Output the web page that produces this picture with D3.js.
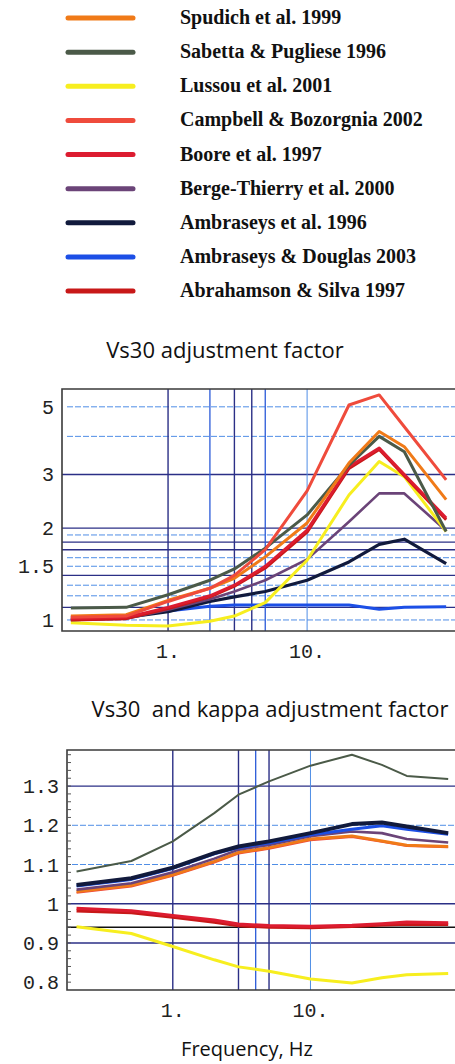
<!DOCTYPE html>
<html>
<head>
<meta charset="utf-8">
<script src="https://cdn.jsdelivr.net/npm/d3@7"></script>
<style>
	body { margin: 0; background: #fff; }
	svg { display: block; }
	.c-adj__legend-text { font-family: "Liberation Serif", serif; font-weight: bold; font-size: 20px; fill: #111; }
	.c-adj__title { font-family: "Open Sans", sans-serif; font-size: 22px; fill: #111; }
	.c-adj__tick { font-family: "Liberation Mono", monospace; font-size: 20px; fill: #222; }
	.c-adj__xlabel { font-family: "Open Sans", sans-serif; font-size: 20px; fill: #111; }
</style>
</head>
<body>
<div id="chart"></div>
<script>
var names = ["Spudich et al. 1999", "Sabetta & Pugliese 1996", "Lussou et al. 2001", "Campbell & Bozorgnia 2002",
	"Boore et al. 1997", "Berge-Thierry et al. 2000", "Ambraseys et al. 1996", "Ambraseys & Douglas 2003", "Abrahamson & Silva 1997"];
var colors = ["#f07a18", "#4b5a48", "#f7ee1f", "#ef4b3c", "#dc1c30", "#6b4478", "#111a3c", "#1c4fe6", "#c81818"];

var freqs = [0.2, 0.5, 1, 2, 3, 5, 10, 20, 33, 50, 100];

//Vs30 adjustment factor, one row per model (legend order)
var vs30Values = [
	[1.03, 1.04, 1.16, 1.27, 1.37, 1.61, 2.08, 3.27, 4.15, 3.70, 2.48],
	[1.095, 1.10, 1.21, 1.35, 1.47, 1.72, 2.21, 3.22, 4.00, 3.56, 1.95],
	[0.98, 0.96, 0.955, 0.99, 1.03, 1.14, 1.57, 2.57, 3.31, 2.95, 1.95],
	[1.02, 1.03, 1.15, 1.27, 1.40, 1.70, 2.65, 5.07, 5.47, 4.30, 2.88],
	[1.01, 1.02, 1.10, 1.20, 1.30, 1.50, 1.97, 3.18, 3.66, 3.00, 2.16],
	[1.00, 1.01, 1.08, 1.17, 1.24, 1.35, 1.58, 2.10, 2.60, 2.60, 1.96],
	[1.00, 1.02, 1.065, 1.15, 1.19, 1.24, 1.35, 1.55, 1.77, 1.84, 1.53],
	[1.02, 1.03, 1.07, 1.11, 1.12, 1.12, 1.12, 1.12, 1.085, 1.10, 1.105],
	[1.00, 1.01, 1.09, 1.19, 1.29, 1.48, 1.94, 3.14, 3.62, 2.97, 2.13]
];

//Vs30 and kappa adjustment factor
var kappaValues = [
	[1.031, 1.047, 1.074, 1.108, 1.131, 1.143, 1.165, 1.173, 1.160, 1.149, 1.146],
	[1.082, 1.109, 1.159, 1.231, 1.278, 1.312, 1.352, 1.380, 1.354, 1.326, 1.318],
	[0.941, 0.924, 0.891, 0.857, 0.839, 0.828, 0.808, 0.798, 0.811, 0.819, 0.822],
	[1.028, 1.044, 1.071, 1.105, 1.128, 1.140, 1.162, 1.170, 1.158, 1.147, 1.144],
	[0.988, 0.982, 0.970, 0.958, 0.948, 0.944, 0.942, 0.945, 0.949, 0.953, 0.951],
	[1.036, 1.052, 1.080, 1.115, 1.138, 1.150, 1.172, 1.184, 1.180, 1.165, 1.156],
	[1.048, 1.065, 1.092, 1.129, 1.146, 1.159, 1.180, 1.203, 1.207, 1.197, 1.180],
	[1.045, 1.062, 1.090, 1.127, 1.143, 1.155, 1.176, 1.190, 1.199, 1.190, 1.177],
	[0.982, 0.977, 0.966, 0.953, 0.944, 0.940, 0.939, 0.942, 0.946, 0.948, 0.947]
];

var xTicks = [1, 10];
var vs30Ticks = [5, 3, 2, 1.5, 1];
var kappaTicks = [1.3, 1.2, 1.1, 1, 0.9, 0.8];

//Grid lines: [value, style]
var vs30GridY = [[5, "l"], [4, "l"], [3, "d"], [2, "d"], [1.9, "l"], [1.8, "d"], [1.7, "d"], [1.6, "l"],
	[1.5, "l"], [1.4, "d"], [1.3, "l"], [1.2, "l"], [1.1, "d"], [1, "l"]];
var vs30GridX = [[1, "d"], [2, "b"], [3, "d"], [4, "d"], [5, "b"], [10, "l"]];
var kappaGridY = [[1.3, "d"], [1.2, "l"], [1.1, "l"], [1, "d"], [0.94, "k"], [0.9, "d"]];
var kappaGridX = [[1, "d"], [3, "d"], [4, "b"], [5, "d"], [10, "l"]];

var topOrder = [7, 6, 5, 2, 8, 4, 1, 0, 3];
var bottomOrder = [2, 8, 4, 3, 0, 5, 7, 6, 1];

var W = 455, H = 1064, prefix = "c-adj";

var svg = d3.select("#chart").append("svg")
	.attr("width", W)
	.attr("height", H);

//Legend
var legendY = d3.scaleLinear().domain([0, names.length - 1]).range([18, 291]);
var legend = svg.append("g").attr("class", prefix + "__legend");
names.forEach(function(n, i){
	legend.append("line")
		.attr("x1", 68).attr("x2", 133)
		.attr("y1", legendY(i)).attr("y2", legendY(i))
		.attr("stroke", colors[i])
		.attr("stroke-width", 5)
		.attr("stroke-linecap", "round");
	legend.append("text")
		.attr("class", prefix + "__legend-text")
		.attr("x", 180)
		.attr("y", legendY(i) + 6)
		.text(n);
});

var gridStyle = {
	d: {stroke: "#2b2f86", width: 1.4, dash: null},
	l: {stroke: "#4f8ee6", width: 1, dash: "6,2"},
	b: {stroke: "#2a5ad8", width: 1.3, dash: null},
	k: {stroke: "#111", width: 1.6, dash: null}
};

function drawPanel(opt){
	var g = svg.append("g").attr("class", prefix + "__panel");
	var x = d3.scaleLog().domain(opt.xDomain).range([opt.left, 462]);
	var y = opt.yScale;

	//Grid
	opt.gridY.forEach(function(gl){
		var s = gridStyle[gl[1]];
		g.append("line")
			.attr("x1", opt.left + (gl[1] == "l" ? 5 : 0)).attr("x2", W)
			.attr("y1", y(gl[0])).attr("y2", y(gl[0]))
			.attr("stroke", s.stroke).attr("stroke-width", s.width)
			.attr("stroke-dasharray", s.dash);
	});
	opt.gridX.forEach(function(gl){
		var s = gridStyle[gl[1]];
		g.append("line")
			.attr("x1", x(gl[0])).attr("x2", x(gl[0]))
			.attr("y1", opt.top).attr("y2", opt.bottom)
			.attr("stroke", s.stroke).attr("stroke-width", s.width);
	});

	//Frame
	g.append("path")
		.attr("d", "M" + W + "," + opt.top + "H" + opt.left + "V" + opt.bottom + "H" + W)
		.attr("fill", "none")
		.attr("stroke", "#3a3a3a")
		.attr("stroke-width", 1.6);

	//Minor ticks on the left frame
	g.selectAll(".minor").data(opt.minorTicks).enter().append("line")
		.attr("x1", opt.left).attr("x2", opt.left + 4)
		.attr("y1", function(d){ return y(d); })
		.attr("y2", function(d){ return y(d); })
		.attr("stroke", "#555").attr("stroke-width", 1);

	//Series
	var line = d3.line()
		.x(function(d){ return x(d[0]); })
		.y(function(d){ return y(d[1]); });
	opt.order.forEach(function(i){
		g.append("path")
			.datum(freqs.map(function(f, j){ return [f, opt.values[i][j]]; }))
			.attr("d", line)
			.attr("fill", "none")
			.attr("stroke", colors[i])
			.attr("stroke-width", opt.widths[i])
			.attr("stroke-linejoin", "round");
	});

	//Tick labels
	opt.yTicks.forEach(function(t){
		g.append("text")
			.attr("class", prefix + "__tick")
			.attr("x", opt.left - 8)
			.attr("y", y(t) + 7)
			.attr("text-anchor", "end")
			.text(String(t));
	});
	xTicks.forEach(function(t){
		g.append("text")
			.attr("class", prefix + "__tick")
			.attr("x", x(t))
			.attr("y", opt.bottom + 27)
			.attr("text-anchor", "middle")
			.text(t + ".");
	});
}

//Titles
svg.append("text").attr("class", prefix + "__title")
	.attr("x", 225).attr("y", 358).attr("text-anchor", "middle")
	.text("Vs30 adjustment factor");
svg.append("text").attr("class", prefix + "__title")
	.attr("x", 270).attr("y", 717).attr("text-anchor", "middle")
	.attr("xml:space", "preserve")
	.text("Vs30  and kappa adjustment factor");
svg.append("text").attr("class", prefix + "__xlabel")
	.attr("x", 247).attr("y", 1056).attr("text-anchor", "middle")
	.text("Frequency, Hz");

drawPanel({
	left: 62, top: 389, bottom: 631,
	xDomain: [0.1727, 130],
	yScale: d3.scaleLog().domain([0.92, 5.72]).range([631, 389]),
	gridY: vs30GridY, gridX: vs30GridX,
	minorTicks: [],
	values: vs30Values,
	order: topOrder,
	widths: [3, 3, 3, 3, 3, 2.6, 3.2, 3, 3],
	yTicks: vs30Ticks
});

drawPanel({
	left: 67, top: 750, bottom: 990,
	xDomain: [0.1705, 126],
	yScale: d3.scaleLinear().domain([0.78, 1.392]).range([990, 750]),
	gridY: kappaGridY, gridX: kappaGridX,
	minorTicks: d3.range(0.8, 1.39, 0.02),
	values: kappaValues,
	order: bottomOrder,
	widths: [3, 2, 3, 2, 3.2, 2.6, 4, 3, 3.2],
	yTicks: kappaTicks
});
</script>
</body>
</html>
